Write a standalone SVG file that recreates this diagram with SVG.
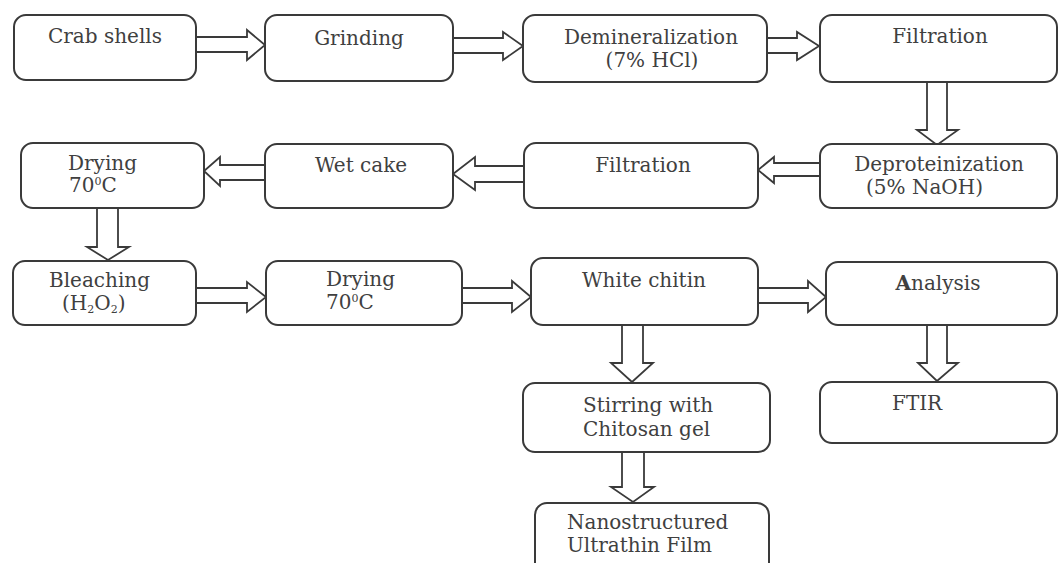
<svg xmlns="http://www.w3.org/2000/svg" width="1059" height="563" viewBox="0 0 1059 563">
<style>
.box{fill:#fff;stroke:#3a3a3a;stroke-width:2}
.arr{fill:#fff;stroke:#3a3a3a;stroke-width:1.8;stroke-linejoin:miter}
text{font-family:"DejaVu Serif","Liberation Serif",serif;font-size:20px;fill:#404040}
.c{text-anchor:middle}
.sup{font-size:11px}
</style>
<rect width="1059" height="563" fill="#fff"/>
<g id="connectors">
<path class="arr" d="M196,37 L247,37 L247,30 L265,45 L247,60 L247,52 L196,52"/>
<path class="arr" d="M453,38 L503,38 L503,32 L523,46 L503,60 L503,53 L453,53"/>
<path class="arr" d="M767,38 L797,38 L797,32 L819,46 L797,60 L797,53 L767,53"/>
<path class="arr" d="M927,82 L927,130 L917,130 L937,145 L958,130 L947,130 L947,82"/>
<path class="arr" d="M820,163 L774,163 L774,157 L758,170 L774,183 L774,176 L820,176"/>
<path class="arr" d="M524,166 L475,166 L475,157 L453,174 L475,190 L475,182 L524,182"/>
<path class="arr" d="M265,165 L220,165 L220,157 L204,171 L220,186 L220,180 L265,180"/>
<path class="arr" d="M97,208 L97,247 L87,247 L108,260 L129,247 L118,247 L118,208"/>
<path class="arr" d="M196,288 L247,288 L247,282 L266,297 L247,312 L247,303 L196,303"/>
<path class="arr" d="M462,288 L512,288 L512,281 L531,297 L512,312 L512,303 L462,303"/>
<path class="arr" d="M758,288 L808,288 L808,281 L826,297 L808,312 L808,303 L758,303"/>
<path class="arr" d="M622,325 L622,363 L611,363 L632,382 L653,363 L643,363 L643,325"/>
<path class="arr" d="M927,325 L927,363 L918,363 L937,381 L958,363 L947,363 L947,325"/>
<path class="arr" d="M622,452 L622,487 L611,487 L633,502 L654,487 L644,487 L644,452"/>
</g>
<g id="crab"><rect class="box" x="14" y="15" width="182" height="65" rx="12"/><text class="c" x="105" y="43">Crab shells</text></g>
<g id="grinding"><rect class="box" x="265" y="15" width="188" height="66" rx="12"/><text class="c" x="359" y="45">Grinding</text></g>
<g id="demineralization"><rect class="box" x="523" y="15" width="244" height="67" rx="12"/><text class="c" x="651" y="44">Demineralization</text><text class="c" x="652" y="67">(7% HCl)</text></g>
<g id="filtration1"><rect class="box" x="820" y="15" width="237" height="67" rx="12"/><text class="c" x="940" y="43">Filtration</text></g>
<g id="deproteinization"><rect class="box" x="820" y="144" width="237" height="64" rx="12"/><text class="c" x="939" y="171">Deproteinization</text><text x="866" y="194">(5% NaOH)</text></g>
<g id="filtration2"><rect class="box" x="524" y="143" width="234" height="65" rx="12"/><text class="c" x="643" y="172">Filtration</text></g>
<g id="wetcake"><rect class="box" x="265" y="144" width="188" height="64" rx="12"/><text class="c" x="361" y="172">Wet cake</text></g>
<g id="drying1"><rect class="box" x="21" y="143" width="183" height="65" rx="12"/><text x="68" y="170">Drying</text><text x="69" y="192">70<tspan class="sup" dy="-7">0</tspan><tspan dy="7">C</tspan></text></g>
<g id="bleaching"><rect class="box" x="13" y="261" width="183" height="64" rx="12"/><text x="49" y="287">Bleaching</text><text x="62" y="310">(H<tspan class="sup" dy="3">2</tspan><tspan dy="-3">O</tspan><tspan class="sup" dy="3">2</tspan><tspan dy="-3">)</tspan></text></g>
<g id="drying2"><rect class="box" x="266" y="261" width="196" height="64" rx="12"/><text x="326" y="286">Drying</text><text x="326" y="309">70<tspan class="sup" dy="-7">0</tspan><tspan dy="7">C</tspan></text></g>
<g id="whitechitin"><rect class="box" x="531" y="258" width="227" height="67" rx="12"/><text class="c" x="644" y="287">White chitin</text></g>
<g id="analysis"><rect class="box" x="826" y="262" width="231" height="63" rx="12"/><text class="c" x="938" y="290"><tspan font-weight="bold">A</tspan>nalysis</text></g>
<g id="stirring"><rect class="box" x="523" y="383" width="247" height="69" rx="12"/><text x="583" y="412">Stirring with</text><text x="583" y="436">Chitosan gel</text></g>
<g id="ftir"><rect class="box" x="820" y="382" width="237" height="61" rx="12"/><text x="892" y="410">FTIR</text></g>
<g id="nano"><rect class="box" x="535" y="503" width="234" height="72" rx="12"/><text x="567" y="529">Nanostructured</text><text x="567" y="552">Ultrathin Film</text></g>
</svg>
